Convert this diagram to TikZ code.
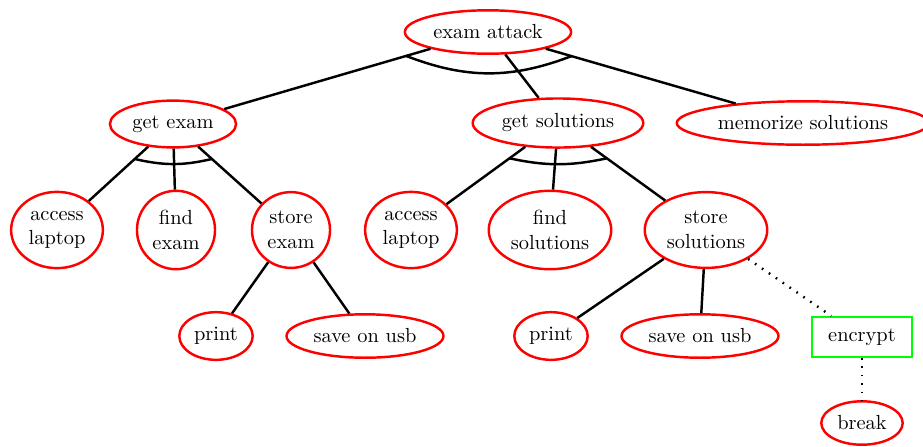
\documentclass[tikz,border=0pt]{standalone}
\usetikzlibrary{positioning, calc, shapes.geometric}
\tikzset{
  x = 0.49pt, y = -0.49pt,
  goal/.style = {draw = red, very thick, ellipse, inner xsep = 2pt, inner ysep = 4pt,
    align = center},
  defense/.style = {draw = green, very thick, rectangle, minimum width = 49pt,
    minimum height = 19.5pt},
  refine/.style = {very thick},
  counter/.style = {very thick, dash pattern = on 0.8pt off 3.3pt},
  conj/.style = {very thick, bend right = #1}
}
\begin{document}
\begin{tikzpicture}
\useasboundingbox (0,0) rectangle (923,446);

\node [goal] (attack) at (488,32) {exam attack};

\node [goal] (getexam) at (173,124) {get exam};
\node [goal] (getsol) at (558,123) {get solutions};
\node [goal] (memo) at (803,123) {memorize solutions};

\node [goal] (laptopa) at (57,230) {access\\laptop};
\node [goal] (findexam) at (176,230) {find\\exam};
\node [goal] (storeexam) at (291,230) {store\\exam};
\node [goal] (laptopb) at (411,230) {access\\laptop};
\node [goal] (findsol) at (550,230) {find\\solutions};
\node [goal] (storesol) at (706,230) {store\\solutions};

\node [goal] (printa) at (216,336) {print};
\node [goal] (usba) at (365,336) {save on usb};
\node [goal] (printb) at (551,336) {print};
\node [goal] (usbb) at (700,336) {save on usb};
\node [defense] (encrypt) at (862,337) {encrypt};
\node [goal] (break) at (862,423) {break};

\draw [refine] (attack) -- (getexam);
\draw [refine] (attack) -- (getsol);
\draw [refine] (attack) -- (memo);
\draw [conj = 21] ($(attack)!0.26!(getexam)$) to ($(attack)!0.265!(memo)$);

\draw [refine] (getexam) -- (laptopa);
\draw [refine] (getexam) -- (findexam);
\draw [refine] (getexam) -- (storeexam);
\draw [conj = 13] ($(getexam)!0.33!(laptopa)$) to ($(getexam)!0.33!(storeexam)$);

\draw [refine] (getsol) -- (laptopb);
\draw [refine] (getsol) -- (findsol);
\draw [refine] (getsol) -- (storesol);
\draw [conj = 12] ($(getsol)!0.33!(laptopb)$) to ($(getsol)!0.33!(storesol)$);

\draw [refine] (storeexam) -- (printa);
\draw [refine] (storeexam) -- (usba);
\draw [refine] (storesol) -- (printb);
\draw [refine] (storesol) -- (usbb);

\draw [counter] (storesol) -- (encrypt);
\draw [counter] (encrypt) -- (break);

\end{tikzpicture}
\end{document}
